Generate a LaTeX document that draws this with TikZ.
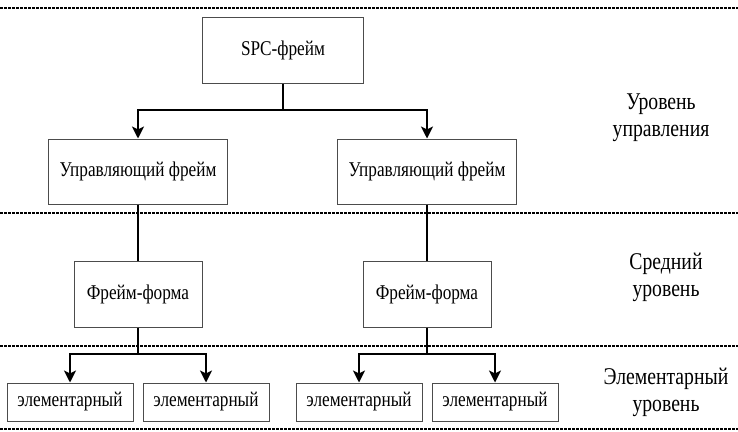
\documentclass[tikz,border=0pt]{standalone}
\usepackage{fontspec}
\setmainfont[FakeStretch=0.82]{Liberation Serif}
\usetikzlibrary{arrows.meta}
\begin{document}
\begin{tikzpicture}[x=1pt,y=-1pt,
  box/.style={draw=black!70,line width=1pt,minimum width=#1,inner sep=0pt,font=\fontsize{21}{24}\selectfont},
  lvl/.style={align=center,font=\fontsize{24}{27}\selectfont},
  sep/.style={line width=2pt,dash pattern=on 3pt off 1pt},
  conn/.style={line width=2pt},
  arr/.style={conn,-{Stealth[length=12pt,width=12pt,inset=3pt]}}]
\useasboundingbox (0,0) rectangle (738,431);
% separators
\coordinate (s1a) at (0,8);   \coordinate (s1b) at (738,8);
\coordinate (s2a) at (0,213); \coordinate (s2b) at (738,213);
\coordinate (s3a) at (0,346); \coordinate (s3b) at (738,346);
\coordinate (s4a) at (0,429); \coordinate (s4b) at (738,429);
\draw[sep] (s1a) -- (s1b);
\draw[sep] (s2a) -- (s2b);
\draw[sep] (s3a) -- (s3b);
\draw[sep] (s4a) -- (s4b);
% boxes
\node[box=161pt,minimum height=66pt] (spc) at (283,50) {SPC-фрейм};
\node[box=179pt,minimum height=65pt] (u1) at (138,171.5) {Управляющий фрейм};
\node[box=179pt,minimum height=65pt] (u2) at (427,171.5) {Управляющий фрейм};
\node[box=128pt,minimum height=66pt] (f1) at (138,294) {Фрейм-форма};
\node[box=128pt,minimum height=66pt] (f2) at (427,294) {Фрейм-форма};
\node[box=126pt,minimum height=38pt] (e1) at (70,402) {элементарный};
\node[box=126pt,minimum height=38pt] (e2) at (206,402) {элементарный};
\node[box=126pt,minimum height=38pt] (e3) at (359,402) {элементарный};
\node[box=126pt,minimum height=38pt] (e4) at (495,402) {элементарный};
% level labels
\node[lvl] (l1) at (661,118) {Уровень\\управления};
\node[lvl] (l2) at (666,277) {Средний\\уровень};
\node[lvl] (l3) at (666,392) {Элементарный\\уровень};
% connectors
\coordinate (j1) at (283,110);
\coordinate (j2) at (138,354);
\coordinate (j3) at (427,354);
\draw[conn] (spc) -- (j1);
\draw[arr] (j1) -| (u1);
\draw[arr] (j1) -| (u2);
\draw[conn] (u1) -- (f1);
\draw[conn] (u2) -- (f2);
\draw[conn] (f1) -- (j2);
\draw[arr] (j2) -| (e1);
\draw[arr] (j2) -| (e2);
\draw[conn] (f2) -- (j3);
\draw[arr] (j3) -| (e3);
\draw[arr] (j3) -| (e4);
\end{tikzpicture}
\end{document}
